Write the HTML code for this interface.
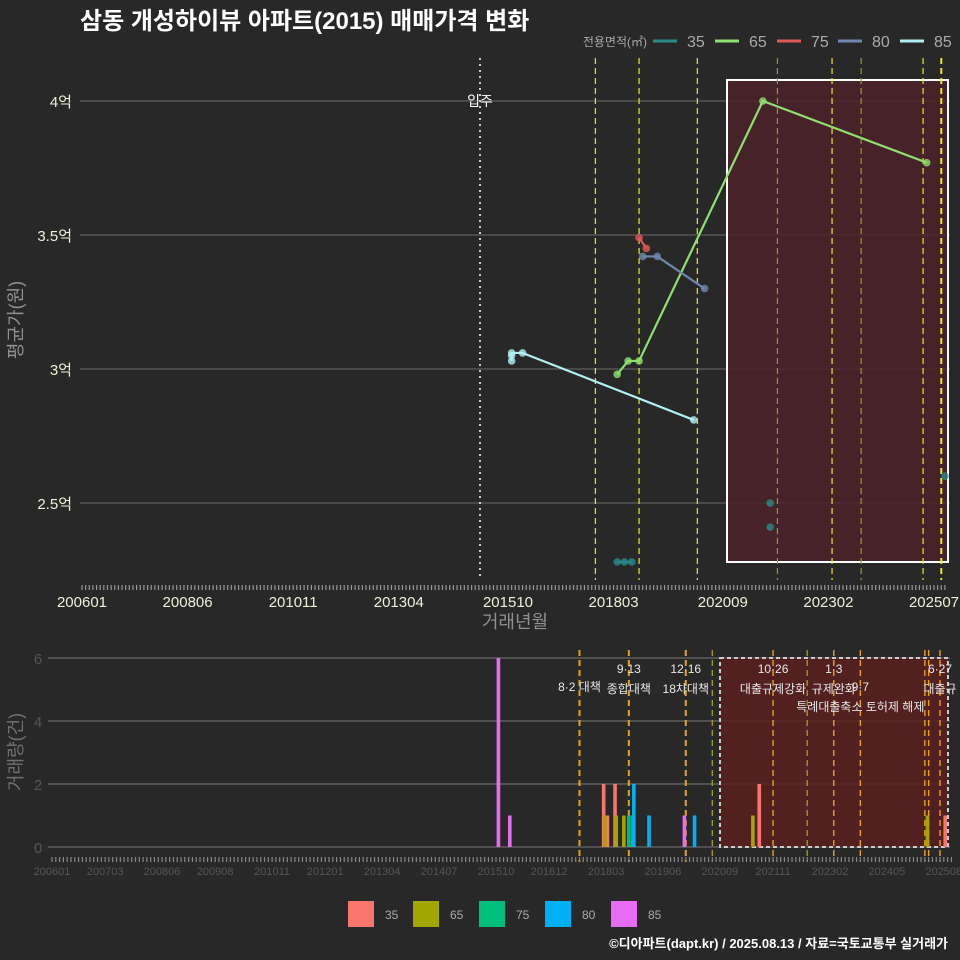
<!DOCTYPE html>
<html><head><meta charset="utf-8"><style>
html,body{margin:0;padding:0;background:#282828;overflow:hidden;}
svg{display:block;font-family:"Liberation Sans","Noto Sans CJK KR",sans-serif;}
</style></head><body>
<svg id="c" width="960" height="960" viewBox="0 0 960 960" xmlns="http://www.w3.org/2000/svg">
<rect x="0" y="0" width="960" height="960" fill="#282828"/>
<text x="80" y="29" fill="#ffffff" font-size="24" font-weight="bold">삼동 개성하이뷰 아파트(2015) 매매가격 변화</text>
<text x="948" y="948" fill="#ffffff" font-size="13" font-weight="bold" text-anchor="end">©디아파트(dapt.kr) / 2025.08.13 / 자료=국토교통부 실거래가</text>
<g id="topg"></g>
<g id="botg"></g>
</svg>
<script>
// ---- data ----
const seriesNames = ["35","65","75","80","85"];
const lineColors = ["#2a8a8a","#90e070","#e05858","#7088b0","#b0eef0"];
const barColors = ["#f8766d","#a3a500","#00bf7d","#00b0f6","#e76bf3"];
// top chart points: [yyyymm, value(억)]
const s35 = [["201804",2.28],["201806",2.28],["201808",2.28],["202110",2.50],["202110",2.41],["202510",2.60]];
const s65 = [["201804",2.98],["201807",3.03],["201810",3.03],["202108",4.00],["202505",3.77]];
const s75 = [["201810",3.49],["201812",3.45]];
const s80 = [["201811",3.42],["201903",3.42],["202004",3.30]];
const s85 = [["201511",3.03],["201511",3.05],["201511",3.06],["201602",3.06],["202001",2.81]];
const yTicks = [2.5,3,3.5,4];
const yTickLabels = ["2.5억","3억","3.5억","4억"];
const topXLabels = ["200601","200806","201011","201304","201510","201803","202009","202302","202507"];
const botXLabels = ["200601","200703","200806","200908","201011","201201","201304","201407","201510","201612","201803","201906","202009","202111","202302","202405","202508"];
const topVLines = ["201710","201810","202002","202112","202303","202311","202504","202509"];
// bottom bars
const barMonths = ["201510","201601","201911","201803","201806","201804","202108","202509","201803","201806","201808","202106","202504","201809","201810","201810","201902","202002"];
const barSeries = [4,4,4,0,0,0,0,0,1,1,1,1,1,2,2,3,3,3];
const barCounts = [6,1,1,2,2,1,2,1,1,1,1,1,1,1,1,2,1,1];
const botVLines = ["201708","201809","201912","202007","202111","202208","202303","202310","202503","202504","202507"];
// [month, line1, line2, line index start]
const botVLabels = [["201708","8·2 대책","",1],["201809","9·13","종합대책",0],["201912","12·16","18차대책",0],["202111","10·26","대출규제강화",0],["202303","1·3","규제완화",0],["202310","9·7","특례대출축소 토허제 해제",1],["202507","6·27","대출규",0]];
const barTicks = [0,2,4,6];

const NS="http://www.w3.org/2000/svg";
function mk(tag,attrs,parent,txt){const e=document.createElementNS(NS,tag);for(const k in attrs)e.setAttribute(k,attrs[k]);if(txt!==undefined)e.textContent=txt;parent.appendChild(e);return e;}
function mi(s){s=String(s);const y=+s.slice(0,4),m=s.length>4?+s.slice(4,6):1;return (y-2006)*12+(m-1);}
const TPM=3.641, BPM=3.795;
const tx=s=>82+mi(s)*TPM;
const ty=v=>369-(v-3)*268;
const bx=s=>52+mi(s)*BPM;
const by=v=>847-v*31.5;

const topG=document.getElementById('topg');
yTicks.forEach((t,i)=>{
  const g=mk('line',{x1:80,x2:950,y1:ty(t),y2:ty(t),stroke:'#6a6a6a','stroke-width':1},topG);
  
  
  const l=mk('text',{x:72,y:ty(t)+6,fill:'#f0f0d8','font-size':15,'text-anchor':'end'},topG,yTickLabels[i]);
  
  
});
const hr=mk('rect',{x:727,y:80,width:221,height:482,fill:'#4a2228','fill-opacity':0.85,stroke:'#ffffff','stroke-width':2},topG);


const mv=mk('line',{x1:480,x2:480,y1:58,y2:580,stroke:'#cccccc','stroke-width':2,'stroke-dasharray':'2,4'},topG);


const mvt=mk('text',{x:480,y:106,fill:'#ffffff','font-size':14,'text-anchor':'middle'},topG,'입주');


topVLines.forEach((m,i)=>{
  const c=(i===3||i===5)?'#9a9a20':'#e8e820';
  const l=mk('line',{x1:tx(m),x2:tx(m),y1:58,y2:580,stroke:c,'stroke-width':i===7?2:1.2,'stroke-dasharray':'6,4'},topG);
  
  
});
for(let m=0;m<=237;m++){
  const t=mk('line',{x1:82+m*TPM,x2:82+m*TPM,y1:585,y2:590,stroke:'#999','stroke-width':1.2},topG);
  
  
}
topXLabels.forEach(s=>{
  const t=mk('text',{x:tx(s),y:607,fill:'#f0f0d8','font-size':15,'text-anchor':'middle'},topG,s);
  
  
});
const xt=mk('text',{x:515,y:628,fill:'#909090','font-size':18,'text-anchor':'middle'},topG,'거래년월');


const yt=mk('text',{x:0,y:0,fill:'#909090','font-size':18,'text-anchor':'middle',transform:'translate(22,320) rotate(-90)'},topG,'평균가(원)');


[s35,s65,s75,s80,s85].forEach((s,i)=>{
  const pts=(i>0?s:s.slice(0,3)).map(p=>tx(p[0])+','+ty(p[1])).join(' ');
  const pl=mk('polyline',{points:pts,fill:'none',stroke:lineColors[i],'stroke-width':2.2},topG);
  
  
  s.forEach(p=>{
    const c=mk('circle',{cx:tx(p[0]),cy:ty(p[1]),r:3.8,fill:lineColors[i],'fill-opacity':0.8},topG);
    
    
  });
});
const lg=mk('g',{},topG);


const lgt=mk('text',{x:647,y:46,fill:'#aaaaaa','font-size':12,'text-anchor':'end'},lg,'전용면적(㎡)');


[653,715,777,838,900].forEach((x,i)=>{
  const l=mk('line',{x1:x,x2:x+24,y1:41,y2:41,stroke:lineColors[i],'stroke-width':3},lg);
  
  
  const t=mk('text',{x:x+34,y:47,fill:'#aaaaaa','font-size':16},lg,seriesNames[i]);
  
  
});

const botG=document.getElementById('botg');
barTicks.forEach(t=>{
  const g=mk('line',{x1:48,x2:950,y1:by(t),y2:by(t),stroke:'#777','stroke-width':1},botG);
  
  
  const l=mk('text',{x:38,y:by(t)+6,fill:'#555','font-size':15,'text-anchor':'middle'},botG,String(t));
  
  
});
const br=mk('rect',{x:720,y:658,width:228,height:189,fill:'#5a1e1e','fill-opacity':0.85,stroke:'#cccccc','stroke-width':2,'stroke-dasharray':'4,3'},botG);


botVLines.forEach((m,i)=>{
  const c=(i===3||i===5)?'#9a9a20':'#e8a020';
  const l=mk('line',{x1:bx(m),x2:bx(m),y1:650,y2:862,stroke:c,'stroke-width':(i<3)?2:1.4,'stroke-dasharray':'6,4'},botG);
  
  
});
botVLabels.forEach(v=>{
  const y0=669+v[3]*18;
  const t1=mk('text',{x:bx(v[0]),y:y0+4,fill:'#e8e8e8','font-size':12,'text-anchor':'middle'},botG,v[1]);
  
  
  if(v[2]){
    const t2=mk('text',{x:bx(v[0]),y:y0+24,fill:'#e8e8e8','font-size':12,'text-anchor':'middle'},botG,v[2]);
    
    
  }
});
barMonths.forEach((m,i)=>{
  const x=bx(m)+(barSeries[i]-2)*1.2;
  const r=mk('rect',{x:x-1.8,y:by(barCounts[i]),width:3.6,height:barCounts[i]*31.5,fill:barColors[barSeries[i]]},botG);
  
  
});
for(let m=0;m<=237;m++){
  const t=mk('line',{x1:52+m*BPM,x2:52+m*BPM,y1:857,y2:862,stroke:'#888','stroke-width':1.2},botG);
  
  
}
botXLabels.forEach(s=>{
  const t=mk('text',{x:bx(s),y:875,fill:'#555','font-size':11,'text-anchor':'middle'},botG,s);
  
  
});
const byt=mk('text',{x:0,y:0,fill:'#707070','font-size':18,'text-anchor':'middle',transform:'translate(22,752) rotate(-90)'},botG,'거래량(건)');


const bl=mk('g',{},botG);


[348,413,479,545,611].forEach((x,i)=>{
  const r=mk('rect',{x:x,y:901,width:26,height:26,fill:barColors[i]},bl);
  
  
  const t=mk('text',{x:x+37,y:919,fill:'#aaaaaa','font-size':12},bl,seriesNames[i]);
  
  
});
</script>
</body></html>
